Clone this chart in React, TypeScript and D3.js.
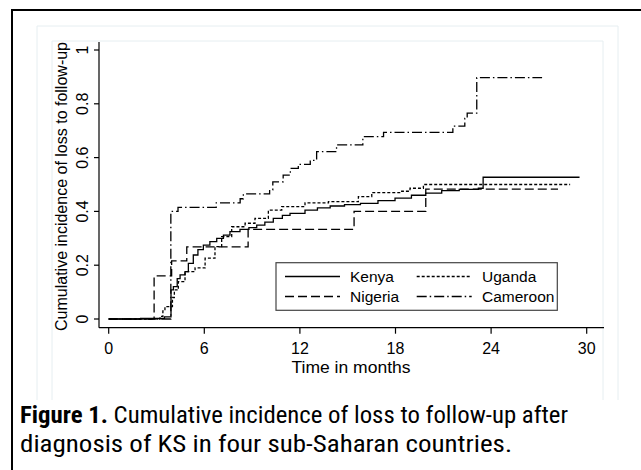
import React from "react";
import * as d3 from "d3";

// Months / cumulative incidence step points
const kenya: [number, number][] = [
  [0, 0], [2.0, 0.002], [3.5, 0.008], [3.91, 0.108], [4.06, 0.12], [4.3, 0.15], [4.48, 0.164], [4.79, 0.176],
  [5.0, 0.207], [5.31, 0.238], [5.6, 0.258], [5.94, 0.275], [6.35, 0.288], [6.78, 0.3], [7.2, 0.312],
  [7.61, 0.325], [8.24, 0.333], [8.8, 0.34], [9.29, 0.349], [9.8, 0.36], [10.33, 0.374], [10.9, 0.385],
  [11.38, 0.393], [12.32, 0.405], [13.1, 0.413], [13.9, 0.42], [14.8, 0.425], [15.8, 0.43], [16.9, 0.44],
  [17.97, 0.449], [19.0, 0.46], [19.9, 0.468], [20.9, 0.477], [22.0, 0.482], [23.2, 0.486], [23.5, 0.527],
  [29.55, 0.527],
];
const nigeria: [number, number][] = [
  [0, 0], [2.85, 0.16], [3.95, 0.216], [4.9, 0.268], [8.75, 0.333], [15.4, 0.4], [19.9, 0.483], [28.2, 0.483],
];
const uganda: [number, number][] = [
  [0, 0], [3.22, 0.01], [3.4, 0.03], [3.53, 0.046], [4.0, 0.08], [4.12, 0.108], [4.37, 0.139], [4.79, 0.176],
  [5.42, 0.19], [6.05, 0.226], [6.67, 0.269], [7.09, 0.306], [7.72, 0.343], [8.56, 0.356], [9.18, 0.374],
  [10.02, 0.405], [10.86, 0.418], [12.32, 0.432], [13.79, 0.436], [15.67, 0.455], [16.51, 0.47],
  [18.39, 0.475], [18.91, 0.486], [19.75, 0.5], [28.96, 0.5],
];
const cameroon: [number, number][] = [
  [0, 0], [3.9, 0.4], [4.35, 0.415], [6.75, 0.432], [8.25, 0.447], [8.45, 0.465], [10.1, 0.48], [10.3, 0.51],
  [10.95, 0.535], [11.4, 0.56], [11.9, 0.575], [12.65, 0.59], [13.05, 0.622], [14.3, 0.647], [15.95, 0.678],
  [17.25, 0.694], [21.6, 0.717], [22.35, 0.746], [22.5, 0.765], [23.1, 0.897], [27.2, 0.897],
];

const xTicks = [0, 6, 12, 18, 24, 30];
const yTicks = [0, 0.2, 0.4, 0.6, 0.8, 1];
const yTickLabels = ["0", "0.2", "0.4", "0.6", "0.8", "1"];

const series = [
  { name: "Kenya", data: kenya, dash: "none" },
  { name: "Nigeria", data: nigeria, dash: "9,4" },
  { name: "Uganda", data: uganda, dash: "3,2" },
  { name: "Cameroon", data: cameroon, dash: "10,3,1.5,3" },
];

export default function App() {
  const W = 641, H = 470;
  const x = d3.scaleLinear().domain([0, 30]).range([108.7, 586.7]);
  const y = d3.scaleLinear().domain([0, 1]).range([319, 50]);
  const line = d3
    .line<[number, number]>()
    .x((d) => x(d[0]))
    .y((d) => y(d[1]))
    .curve(d3.curveStepAfter);
  const font = "'Liberation Sans', Arial, sans-serif";
  const fs = 16;
  const axisY = 327.7;
  const axisX = 99;
  const capFont = "'Roboto Condensed', 'Liberation Sans Narrow', Roboto, sans-serif";
  const legendItems = [
    { s: series[0], lx: 285, tx: 350, ty: 282 },
    { s: series[2], lx: 416.7, tx: 482, ty: 282 },
    { s: series[1], lx: 285, tx: 350, ty: 302 },
    { s: series[3], lx: 416.7, tx: 482, ty: 302 },
  ];
  return (
    <svg
      width={W}
      height={H}
      style={{ position: "absolute", left: 0, top: 0, background: "#fff" }}
    >
      {/* outer frame */}
      <rect x={12} y={10} width={660} height={490} fill="none" stroke="#000" strokeWidth={2} />
      {/* faint Stata region borders */}
      <path d="M37,400 V26 H618 V400" fill="none" stroke="#e6eef1" strokeWidth={1} />
      <path d="M52,400 V41 H603 V400" fill="none" stroke="#e6eef1" strokeWidth={1} />

      {/* axes */}
      <line x1={axisX} x2={604} y1={axisY} y2={axisY} stroke="#000" strokeWidth={1.2} />
      <line x1={axisX} x2={axisX} y1={42} y2={axisY} stroke="#000" strokeWidth={1.2} />
      {xTicks.map((t) => (
        <g key={t}>
          <line x1={x(t)} x2={x(t)} y1={axisY} y2={axisY + 6} stroke="#000" strokeWidth={1.2} />
          <text x={x(t)} y={353.5} textAnchor="middle" fontFamily={font} fontSize={fs}>
            {t}
          </text>
        </g>
      ))}
      {yTicks.map((t, i) => (
        <g key={t}>
          <line x1={axisX - 5} x2={axisX} y1={y(t)} y2={y(t)} stroke="#000" strokeWidth={1.2} />
          <text
            transform={`translate(87.5,${y(t)}) rotate(-90)`}
            textAnchor="middle"
            fontFamily={font}
            fontSize={fs}
          >
            {yTickLabels[i]}
          </text>
        </g>
      ))}
      <text x={351} y={373} textAnchor="middle" fontFamily={font} fontSize={fs}
        textLength={119} lengthAdjust="spacingAndGlyphs">
        Time in months
      </text>
      <text
        transform={`translate(66.5,186.5) rotate(-90)`}
        textAnchor="middle"
        fontFamily={font}
        fontSize={fs}
        textLength={289}
        lengthAdjust="spacingAndGlyphs"
      >
        Cumulative incidence of loss to follow-up
      </text>

      {/* curves */}
      {series.map((s) => (
        <path
          key={s.name}
          d={line(s.data) || ""}
          fill="none"
          stroke="#000"
          strokeWidth={1.3}
          strokeDasharray={s.dash === "none" ? undefined : s.dash}
        />
      ))}

      {/* legend */}
      <rect x={276} y={262.7} width={281.3} height={47.6} fill="#fff" stroke="#444" strokeWidth={1.2} />
      {legendItems.map((it) => (
        <g key={it.s.name}>
          <line
            x1={it.lx}
            x2={it.lx + 55}
            y1={it.ty - 5.5}
            y2={it.ty - 5.5}
            stroke="#000"
            strokeWidth={1.3}
            strokeDasharray={it.s.dash === "none" ? undefined : it.s.dash}
          />
          <text x={it.tx} y={it.ty} fontFamily={font} fontSize={15.5}>
            {it.s.name}
          </text>
        </g>
      ))}

      {/* caption */}
      <text x={20} y={423} fontFamily={capFont} fontSize={23} textLength={548} lengthAdjust="spacingAndGlyphs">
        <tspan fontWeight="bold">Figure 1.</tspan>
        <tspan> Cumulative incidence of loss to follow-up after</tspan>
      </text>
      <text x={20} y={452} fontFamily={capFont} fontSize={23} textLength={492} lengthAdjust="spacingAndGlyphs">
        diagnosis of KS in four sub-Saharan countries.
      </text>
    </svg>
  );
}
